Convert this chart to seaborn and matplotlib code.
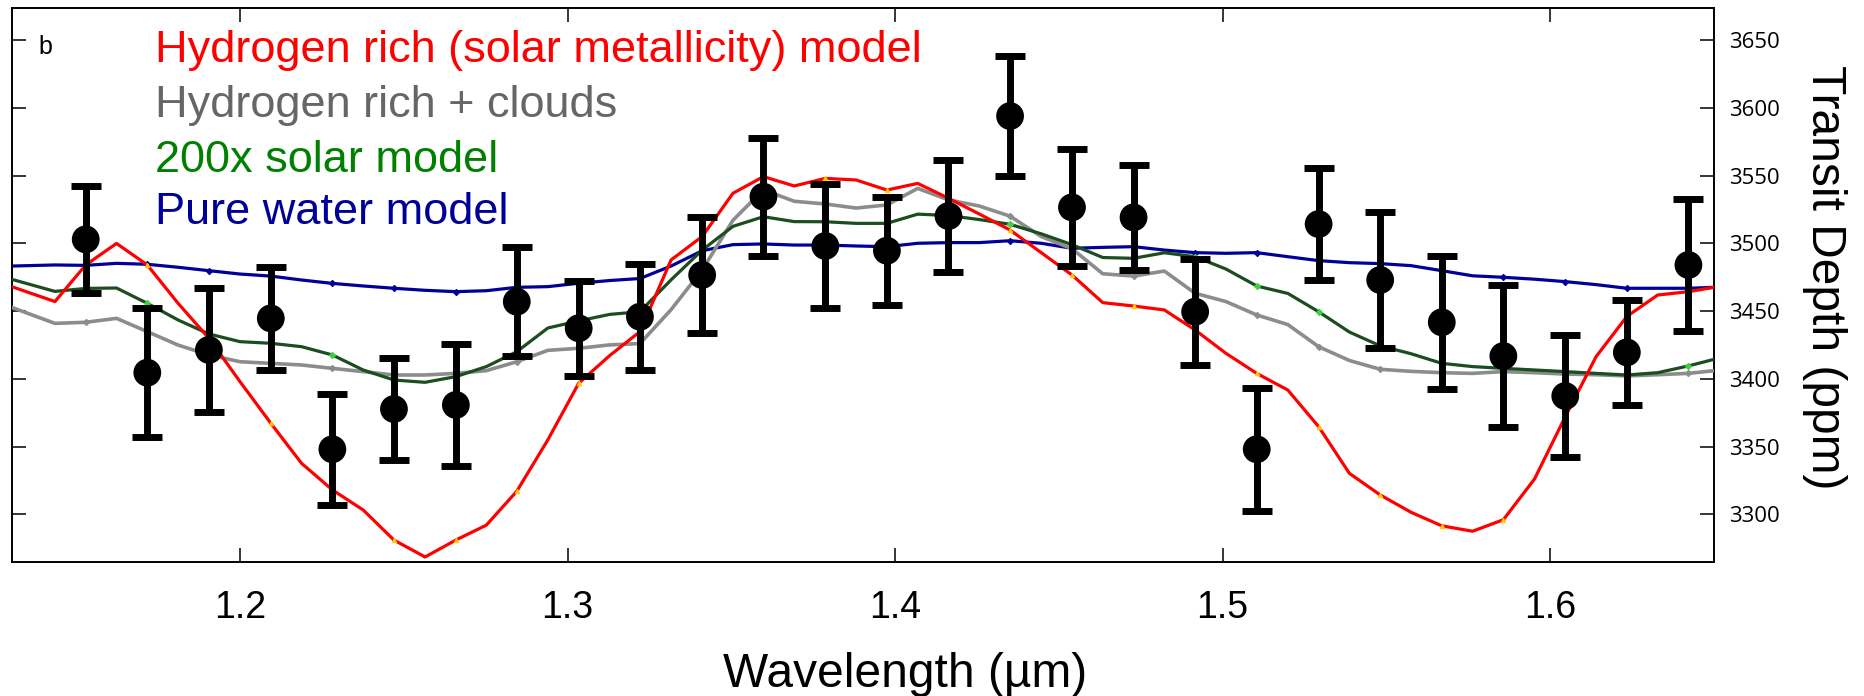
import matplotlib
matplotlib.use("Agg")
import matplotlib.pyplot as plt
import seaborn as sns
import pandas as pd

# ---- data ----
wl_model = [1.1303, 1.1435, 1.1529, 1.1623, 1.1717, 1.1811, 1.1905, 1.2000, 1.2094, 1.2188,
            1.2282, 1.2376, 1.2470, 1.2565, 1.2659, 1.2752, 1.2845, 1.2940, 1.3034, 1.3128,
            1.3221, 1.3316, 1.3411, 1.3505, 1.3598, 1.3692, 1.3787, 1.3881, 1.3975, 1.4069,
            1.4163, 1.4257, 1.4351, 1.4446, 1.4540, 1.4634, 1.4728, 1.4822, 1.4916, 1.5010,
            1.5104, 1.5199, 1.5293, 1.5387, 1.5481, 1.5575, 1.5669, 1.5763, 1.5857, 1.5952,
            1.6046, 1.6140, 1.6234, 1.6328, 1.6422, 1.6501]

model_solar = [3468.0, 3457.0, 3484.0, 3499.9, 3484.0, 3455.7, 3429.9, 3397.9, 3367.2, 3337.6,
               3318.0, 3303.2, 3281.0, 3268.5, 3281.0, 3292.0, 3317.0, 3355.0, 3396.7, 3417.0,
               3434.8, 3487.7, 3505.0, 3536.9, 3549.2, 3542.3, 3547.9, 3546.7, 3539.3, 3544.2,
               3533.2, 3521.6, 3509.8, 3493.1, 3476.6, 3456.2, 3453.7, 3450.8, 3436.0, 3418.8,
               3404.0, 3391.7, 3364.7, 3330.2, 3314.3, 3301.5, 3291.5, 3287.5, 3296.0, 3326.0,
               3372.0, 3416.3, 3446.0, 3461.8, 3464.3, 3467.5]

model_clouds = [3452.7, 3440.9, 3441.7, 3444.6, 3434.8, 3424.9, 3417.6, 3412.6, 3411.4, 3410.2,
                3407.7, 3405.3, 3402.8, 3402.8, 3404.0, 3406.0, 3412.6, 3421.0, 3422.5, 3425.0,
                3426.0, 3451.0, 3480.3, 3517.0, 3539.5, 3531.0, 3529.0, 3526.0, 3528.3, 3540.5,
                3532.0, 3527.5, 3520.0, 3505.0, 3496.0, 3477.5, 3475.8, 3479.5, 3463.1, 3457.0,
                3447.1, 3440.0, 3423.7, 3413.5, 3407.0, 3405.5, 3404.5, 3404.0, 3405.3, 3404.5,
                3403.5, 3403.0, 3402.1, 3403.0, 3404.0, 3406.0]

model_200x = [3473.4, 3464.5, 3466.7, 3467.0, 3455.7, 3443.4, 3433.1, 3427.4, 3426.2, 3423.7,
              3417.6, 3406.5, 3399.1, 3397.4, 3401.6, 3409.0, 3420.0, 3437.5, 3442.7, 3447.5,
              3449.5, 3473.0, 3495.0, 3512.5, 3519.6, 3516.0, 3515.9, 3514.7, 3514.7, 3521.5,
              3520.5, 3517.5, 3514.0, 3507.0, 3499.0, 3489.5, 3488.9, 3493.0, 3490.1, 3481.0,
              3468.5, 3463.0, 3449.5, 3434.5, 3424.3, 3418.5, 3411.4, 3409.0, 3407.7, 3406.5,
              3405.3, 3404.0, 3402.8, 3404.5, 3409.5, 3414.4]

model_water = [3483.2, 3484.0, 3483.7, 3485.2, 3484.5, 3482.3, 3479.8, 3477.3, 3475.8, 3472.9,
               3470.4, 3468.5, 3466.8, 3465.3, 3464.3, 3465.0, 3467.5, 3468.0, 3470.5, 3472.5,
               3474.0, 3483.2, 3494.5, 3499.0, 3499.5, 3498.7, 3498.7, 3498.0, 3497.5, 3500.0,
               3500.5, 3500.5, 3501.9, 3500.0, 3496.3, 3497.0, 3497.5, 3495.0, 3493.1, 3492.6,
               3493.1, 3490.1, 3487.2, 3485.7, 3485.0, 3483.5, 3479.8, 3476.0, 3474.9, 3473.5,
               3471.7, 3469.5, 3466.8, 3466.8, 3466.8, 3467.5]

wl_data = [1.1529, 1.1717, 1.1905, 1.2094, 1.2282, 1.2470, 1.2659, 1.2845, 1.3034, 1.3221,
           1.3411, 1.3598, 1.3787, 1.3975, 1.4163, 1.4351, 1.4540, 1.4728, 1.4916, 1.5104,
           1.5293, 1.5481, 1.5669, 1.5857, 1.6046, 1.6234, 1.6422]
depth_data = [3502.9, 3404.5, 3421.3, 3444.6, 3348.0, 3377.7, 3380.7, 3456.9, 3437.3, 3445.8,
              3476.6, 3534.4, 3498.0, 3494.5, 3520.1, 3593.9, 3526.5, 3519.1, 3449.5, 3348.0,
              3514.2, 3472.9, 3441.7, 3416.8, 3387.3, 3419.5, 3484.0]
err_data = [39.6, 47.6, 45.7, 38.0, 41.0, 37.5, 45.0, 40.0, 35.0, 39.0,
            43.0, 43.6, 46.0, 40.0, 41.0, 44.0, 43.0, 39.0, 39.0, 45.5,
            41.0, 50.0, 49.0, 52.7, 45.0, 39.0, 49.0]

x_ticks = [1.2, 1.3, 1.4, 1.5, 1.6]
y_ticks = [3300, 3350, 3400, 3450, 3500, 3550, 3600, 3650]

legend_labels = ["Hydrogen rich (solar metallicity) model", "Hydrogen rich + clouds",
                 "200x solar model", "Pure water model"]

# ---- style ----
sns.set_style("ticks")
plt.rcParams["font.family"] = ["Liberation Sans", "DejaVu Sans"]
for key in ["text.color", "axes.labelcolor", "xtick.color", "ytick.color", "axes.edgecolor"]:
    plt.rcParams[key] = "black"
plt.rcParams["lines.solid_joinstyle"] = "round"
plt.rcParams["lines.solid_capstyle"] = "round"

W, H = 1865, 696
fig = plt.figure(figsize=(W / 100, H / 100), dpi=100)
ax_l, ax_r, ax_t, ax_b = 11.7, 1714.3, 7.5, 562.0
ax = fig.add_axes([ax_l / W, 1 - ax_b / H, (ax_r - ax_l) / W, (ax_b - ax_t) / H])

models = pd.DataFrame({"wl": wl_model, "solar": model_solar, "clouds": model_clouds,
                       "x200": model_200x, "water": model_water})
data = pd.DataFrame({"wl": wl_data, "depth": depth_data, "err": err_data})

mark_idx = list(range(2, len(wl_model) - 1, 2))

sns.lineplot(data=models, x="wl", y="water", ax=ax, color="#000099", lw=2.3,
             marker="D", ms=3.2, mfc="#000099", mec="#000099", markevery=mark_idx,
             label=legend_labels[3], legend=False, zorder=2)
sns.lineplot(data=models, x="wl", y="clouds", ax=ax, color="#8c8c8c", lw=2.6,
             marker="D", ms=3.2, mfc="#8c8c8c", mec="#8c8c8c", markevery=mark_idx,
             label=legend_labels[1], legend=False, zorder=3)
sns.lineplot(data=models, x="wl", y="x200", ax=ax, color="#1b4d1f", lw=2.3,
             marker="D", ms=3.2, mfc="#3fd13f", mec="#3fd13f", markevery=mark_idx,
             label=legend_labels[2], legend=False, zorder=4)
sns.lineplot(data=models, x="wl", y="solar", ax=ax, color="#ff0000", lw=2.3,
             marker="^", ms=3.2, mfc="#ffcc00", mec="#ffcc00", markevery=mark_idx,
             label=legend_labels[0], legend=False, zorder=5)

ax.errorbar(data["wl"], data["depth"], yerr=data["err"], fmt="none", ecolor="black",
            elinewidth=5, capsize=10.5, capthick=5, zorder=6)
sns.scatterplot(data=data, x="wl", y="depth", ax=ax, color="black", s=400,
                edgecolor="none", linewidth=0, zorder=7, legend=False)

ax.set_xlim(1.1303, 1.6501)
ax.set_ylim(3264.8, 3674.0)
ax.set_xticks(x_ticks)
ax.set_xticklabels([f"{v:.1f}" for v in x_ticks])
ax.set_yticks(y_ticks)
ax.set_yticklabels([str(v) for v in y_ticks], fontfamily="Open Sans", fontsize=16)

ax.tick_params(axis="x", which="both", direction="in", top=True, bottom=True,
               length=10, width=1.1, labelsize=27, pad=20, colors="black")
ax.tick_params(axis="y", which="both", direction="in", left=True, right=True,
               labelleft=False, labelright=True, length=10, width=1.1, pad=10.5,
               colors="black")
for s in ax.spines.values():
    s.set_visible(True)
    s.set_linewidth(1.4)
    s.set_color("black")

ax.set_xlabel("Wavelength (µm)", fontsize=34.5, color="black")
ax.xaxis.label.set_verticalalignment("baseline")
ax.xaxis.set_label_coords((905 - ax_l) / (ax_r - ax_l), -(687 - ax_b) / (ax_b - ax_t))

ax.yaxis.set_label_position("right")
ax.set_ylabel("Transit Depth (ppm)", fontsize=34.5, rotation=-90, color="black")
ax.yaxis.label.set_horizontalalignment("center")
ax.yaxis.label.set_verticalalignment("center")
ax.yaxis.set_label_coords((1824.5 - ax_l) / (ax_r - ax_l), (ax_b - 277.5) / (ax_b - ax_t))

# panel letter and coloured model key
ax.text((38 - ax_l) / (ax_r - ax_l), (ax_b - 54) / (ax_b - ax_t), "b",
        transform=ax.transAxes, fontsize=18, va="baseline", ha="left", color="black")
key_colors = ["#ff0000", "#666666", "#008000", "#000099"]
key_baselines = [62.3, 116.7, 171.7, 224.3]
for lab, col, yb in zip(legend_labels, key_colors, key_baselines):
    ax.text((155 - ax_l) / (ax_r - ax_l), (ax_b - yb) / (ax_b - ax_t), lab, color=col,
            transform=ax.transAxes, fontsize=32.5, va="baseline", ha="left")

fig.savefig("out.png", dpi=100, facecolor="white")
